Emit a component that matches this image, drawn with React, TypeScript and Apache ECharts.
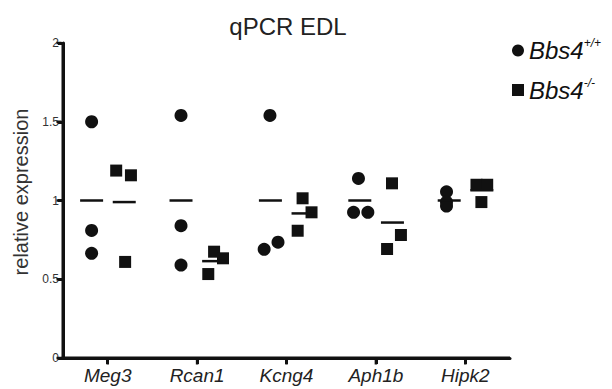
import React, { useEffect, useRef } from "react";
import * as echarts from "echarts";

// ---- data ----
const categories = ["Meg3", "Rcan1", "Kcng4", "Aph1b", "Hipk2"];
const yTicks = [0, 0.5, 1, 1.5, 2];
const groupKeys = ["WT", "KO"];
const groupSup = ["+/+", "-/-"];
const wtValues = [
  [1.5, 0.81, 0.665],
  [1.54, 0.84, 0.59],
  [1.54, 0.69, 0.735],
  [1.14, 0.925, 0.925],
  [1.055, 0.99, 0.965],
];
const koValues = [
  [1.19, 1.16, 0.61],
  [0.533, 0.675, 0.633],
  [1.014, 0.925, 0.808],
  [1.109, 0.781, 0.692],
  [1.1, 1.1, 0.99],
];
const wtMeans = [1.0, 1.0, 1.0, 1.0, 1.0];
const koMeans = [0.99, 0.615, 0.918, 0.86, 1.065];

// horizontal scatter offsets within each group (fraction of a category width)
const wtJitter = [
  [-0.18, -0.18, -0.18],
  [-0.18, -0.18, -0.18],
  [-0.185, -0.25, -0.095],
  [-0.195, -0.25, -0.09],
  [-0.21, -0.21, -0.21],
];
const koJitter = [
  [0.095, 0.26, 0.195],
  [0.125, 0.19, 0.29],
  [0.18, 0.28, 0.125],
  [0.18, 0.28, 0.125],
  [0.125, 0.245, 0.18],
];
const wtMeanOffset = -0.18;
const koMeanOffset = 0.185;

const INK = "#111";
const FONT = "Liberation Sans, Arial, sans-serif";
const SQUARE = "path://M0,0H10V10H0Z";
const BAR = "path://M0,0H10V1H0Z";

export default function App() {
  const ref = useRef<HTMLDivElement>(null);

  useEffect(() => {
    if (!ref.current) return;
    const chart = echarts.init(ref.current, null, { renderer: "svg" });

    const wtPoints = categories.flatMap((_, i) =>
      wtValues[i].map((v, j) => [i + wtJitter[i][j], v])
    );
    const koPoints = categories.flatMap((_, i) =>
      koValues[i].map((v, j) => [i + koJitter[i][j], v])
    );
    const wtMeanPts = wtMeans.map((m, i) => [i + wtMeanOffset, m]);
    const koMeanPts = koMeans.map((m, i) => [i + koMeanOffset, m]);

    const yLabel = {
      id: "ylabel",
      type: "text",
      x: 21,
      y: 192,
      rotation: Math.PI / 2,
      style: {
        text: "relative expression",
        fontFamily: FONT,
        fontSize: 20,
        fill: "#333",
        align: "center",
        verticalAlign: "middle",
      },
    };

    const option: any = {
      animation: false,
      title: {
        text: "qPCR EDL",
        left: 283,
        top: 9,
        textAlign: "center",
        textStyle: { fontFamily: FONT, fontSize: 24, fontWeight: "normal", color: "#222" },
      },
      graphic: [yLabel],
      legend: {
        data: groupKeys,
        orient: "vertical",
        left: 507,
        top: 32,
        itemWidth: 12,
        itemHeight: 12,
        itemGap: 14,
        formatter: (name: string) => `{n|Bbs4}{s|${groupSup[groupKeys.indexOf(name)]}}`,
        textStyle: {
          rich: {
            n: { fontFamily: FONT, fontSize: 24, fontStyle: "italic", color: INK, lineHeight: 27 },
            s: { fontFamily: FONT, fontSize: 12, fontStyle: "italic", color: INK, verticalAlign: "top", lineHeight: 14 },
          },
        },
      },
      grid: [
        { left: 63, width: 447, top: 43, height: 315 },
        { left: 600, width: 4, top: 380, height: 4, show: false },
      ],
      xAxis: [
        {
          gridIndex: 0,
          type: "category",
          data: categories,
          axisLine: { show: true, onZero: false, lineStyle: { color: INK, width: 3 } },
          axisTick: { show: true, alignWithLabel: true, length: 6, lineStyle: { color: INK, width: 3 } },
          axisLabel: { fontFamily: FONT, fontSize: 19, fontStyle: "italic", color: "#222", margin: 8 },
          splitLine: { show: false },
        },
        { gridIndex: 0, type: "value", min: -0.5, max: 4.5, show: false },
        { gridIndex: 1, type: "value", min: 0, max: 1, show: false },
      ],
      yAxis: [
        {
          gridIndex: 0,
          type: "value",
          min: yTicks[0],
          max: yTicks[yTicks.length - 1],
          interval: 0.5,
          axisLine: { show: true, onZero: false, lineStyle: { color: INK, width: 3 } },
          axisTick: { show: true, length: 5, lineStyle: { color: INK, width: 3 } },
          axisLabel: { fontFamily: FONT, fontSize: 12, color: "#333", margin: 4 },
          splitLine: { show: false },
        },
        { gridIndex: 1, type: "value", min: 0, max: 1, show: false },
      ],
      series: [
        {
          name: groupKeys[0],
          type: "scatter",
          xAxisIndex: 1,
          yAxisIndex: 0,
          symbol: "circle",
          symbolSize: 13,
          itemStyle: { color: INK, opacity: 1 },
          data: wtPoints,
        },
        {
          name: groupKeys[1],
          type: "scatter",
          xAxisIndex: 1,
          yAxisIndex: 0,
          symbol: SQUARE,
          symbolSize: 12,
          itemStyle: { color: INK, opacity: 1 },
          data: koPoints,
        },
        {
          name: "wtMean",
          type: "scatter",
          xAxisIndex: 1,
          yAxisIndex: 0,
          symbol: BAR,
          symbolSize: [23, 2.5],
          itemStyle: { color: INK, opacity: 1 },
          data: wtMeanPts,
          silent: true,
        },
        {
          name: "koMean",
          type: "scatter",
          xAxisIndex: 1,
          yAxisIndex: 0,
          symbol: BAR,
          symbolSize: [23, 2.5],
          itemStyle: { color: INK, opacity: 1 },
          data: koMeanPts,
          silent: true,
        },
      ],
    };

    chart.setOption(option);

    // Axis lines and ticks as filled shapes placed through the chart's own scales
    const finder = { xAxisIndex: 1, yAxisIndex: 0 };
    const toPx = (x: number, y: number) => chart.convertToPixel(finder as any, [x, y]) as number[];
    const pLB = toPx(-0.5, yTicks[0]);
    const pRT = toPx(4.5, yTicks[yTicks.length - 1]);
    if (pLB && pRT) {
      const left = pLB[0];
      const bottom = pLB[1];
      const right = pRT[0];
      const top = pRT[1];
      const ink = { fill: INK };
      const shapes: any[] = [
        { id: "yline", type: "rect", shape: { x: left - 1.5, y: top, width: 3, height: bottom - top + 1.5 }, style: ink, z: 5 },
        { id: "xline", type: "rect", shape: { x: left - 1.5, y: bottom - 1.5, width: right - left + 1.5, height: 3 }, style: ink, z: 5 },
      ];
      yTicks.forEach((v, k) => {
        const py = toPx(-0.5, v)[1];
        shapes.push({ id: "yt" + k, type: "rect", shape: { x: left - 6.5, y: py - 1.25, width: 5, height: 2.5 }, style: ink, z: 5 });
      });
      categories.forEach((_, i) => {
        const px = toPx(i, yTicks[0])[0];
        shapes.push({ id: "xt" + i, type: "rect", shape: { x: px - 1.25, y: bottom + 1.5, width: 2.5, height: 5 }, style: ink, z: 5 });
      });
      chart.setOption({ graphic: [yLabel, ...shapes] });
    }

    return () => chart.dispose();
  }, []);

  return <div ref={ref} style={{ position: "absolute", left: 0, top: 0, width: 612, height: 389 }} />;
}
